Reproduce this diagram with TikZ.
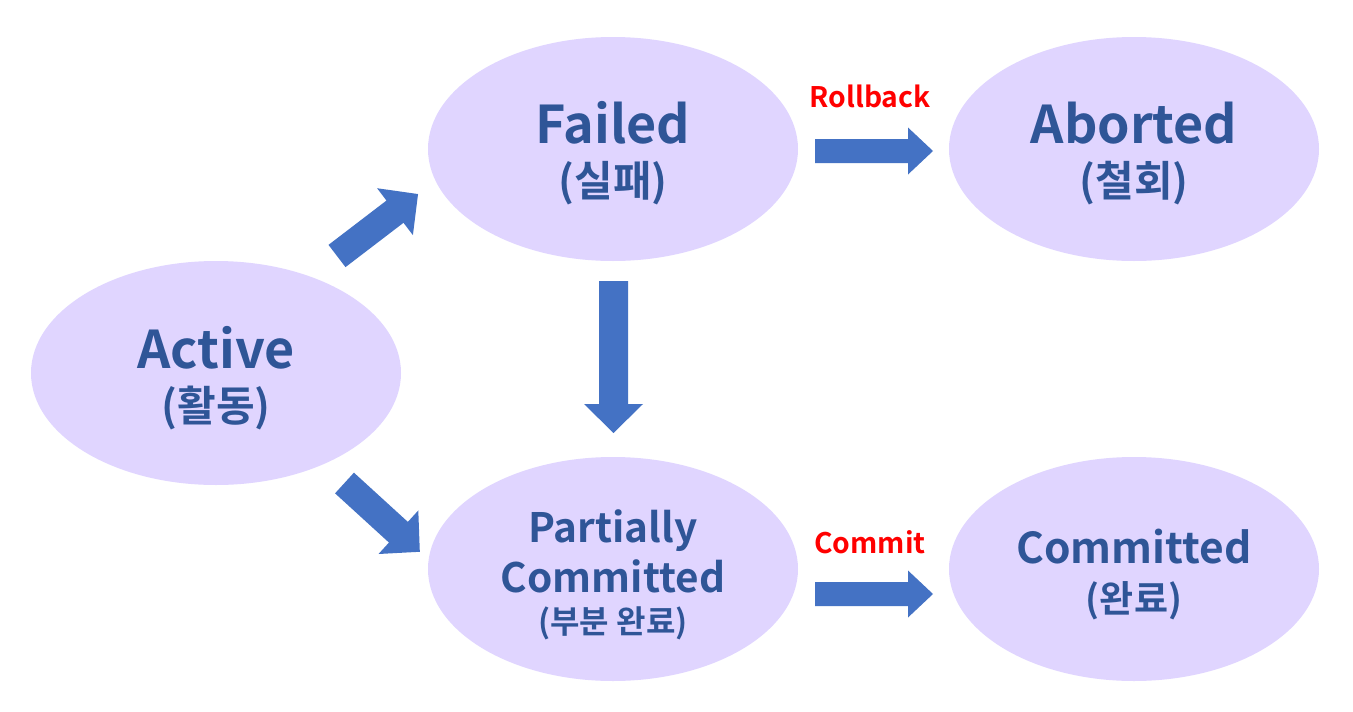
\documentclass[tikz,border=0pt]{standalone}
\usepackage{fontspec}
\setmainfont{Noto Sans CJK KR}[BoldFont={Noto Sans CJK KR Bold}]
\usetikzlibrary{shapes.geometric}
\definecolor{ellfill}{HTML}{E0D5FF}
\definecolor{txtblue}{HTML}{2F5597}
\definecolor{arrblue}{HTML}{4472C4}
\definecolor{lblred}{HTML}{FF0000}
% #1,#2 tail centre; #3 angle; #4 length; #5 shaft width; #6 head width; #7 head length
\newcommand\myblockarrow[7]{%
  \begin{scope}[shift={(#1,#2)},rotate=#3]
    \fill[arrblue] (0,-#5/2) -- (#4-#7,-#5/2) -- (#4-#7,-#6/2) -- (#4,0)
      -- (#4-#7,#6/2) -- (#4-#7,#5/2) -- (0,#5/2) -- cycle;
  \end{scope}}
\begin{document}
\begin{tikzpicture}[x=1pt,y=-1pt,
  ell/.style={ellipse,fill=ellfill,minimum width=370pt,minimum height=224pt,inner sep=0pt},
  big/.style={font=\bfseries\fontsize{52}{56}\selectfont,text=txtblue,anchor=base,inner sep=0pt},
  mid/.style={font=\bfseries\fontsize{42.5}{46}\selectfont,text=txtblue,anchor=base,inner sep=0pt},
  pcl/.style={font=\bfseries\fontsize{40.5}{44}\selectfont,text=txtblue,anchor=base,inner sep=0pt},
  krbig/.style={font=\bfseries\fontsize{42}{45}\selectfont,text=txtblue,anchor=base,inner sep=0pt},
  krmid/.style={font=\bfseries\fontsize{37}{40}\selectfont,text=txtblue,anchor=base,inner sep=0pt},
  krsm/.style={font=\bfseries\fontsize{32}{35}\selectfont,text=txtblue,anchor=base,inner sep=0pt},
  red/.style={font=\bfseries\fontsize{28.3}{31}\selectfont,text=lblred,anchor=base,inner sep=0pt}]
\useasboundingbox (0,0) rectangle (1353,712);
\fill[white] (0,0) rectangle (1353,712);

\node[ell] (active) at (216,373) {};
\node[ell] (failed) at (613,149) {};
\node[ell] (aborted) at (1134,149) {};
\node[ell] (partial) at (613,569) {};
\node[ell] (committed) at (1134,569) {};

\node[big] (activeT) at (216,368) {Active};
\node[krbig] (activeK) at (216,421) {(활동)};
\node[big] (failedT) at (613,143) {Failed};
\node[krbig] (failedK) at (613,196) {(실패)};
\node[big] (abortedT) at (1134,143) {Aborted};
\node[krbig] (abortedK) at (1134,196) {(철회)};
\node[pcl] (partialT1) at (613,542) {Partially};
\node[pcl] (partialT2) at (613,592) {Committed};
\node[krsm] (partialK) at (613,633) {(부분 완료)};
\node[mid] (committedT) at (1134,563) {Committed};
\node[krmid] (committedK) at (1134,612) {(완료)};

\node[red] (rollbackL) at (870,107) {Rollback};
\node[red] (commitL) at (870,553) {Commit};

\myblockarrow{815}{151}{0}{118}{24}{47}{25}
\myblockarrow{815}{594}{0}{118}{24}{47}{25}
\myblockarrow{613.5}{281}{-90}{152}{29}{59}{29}
\myblockarrow{337}{256}{37.4}{102}{28}{59}{29}
\myblockarrow{344.5}{483}{-42.4}{102}{28}{59}{29}
\end{tikzpicture}
\end{document}
